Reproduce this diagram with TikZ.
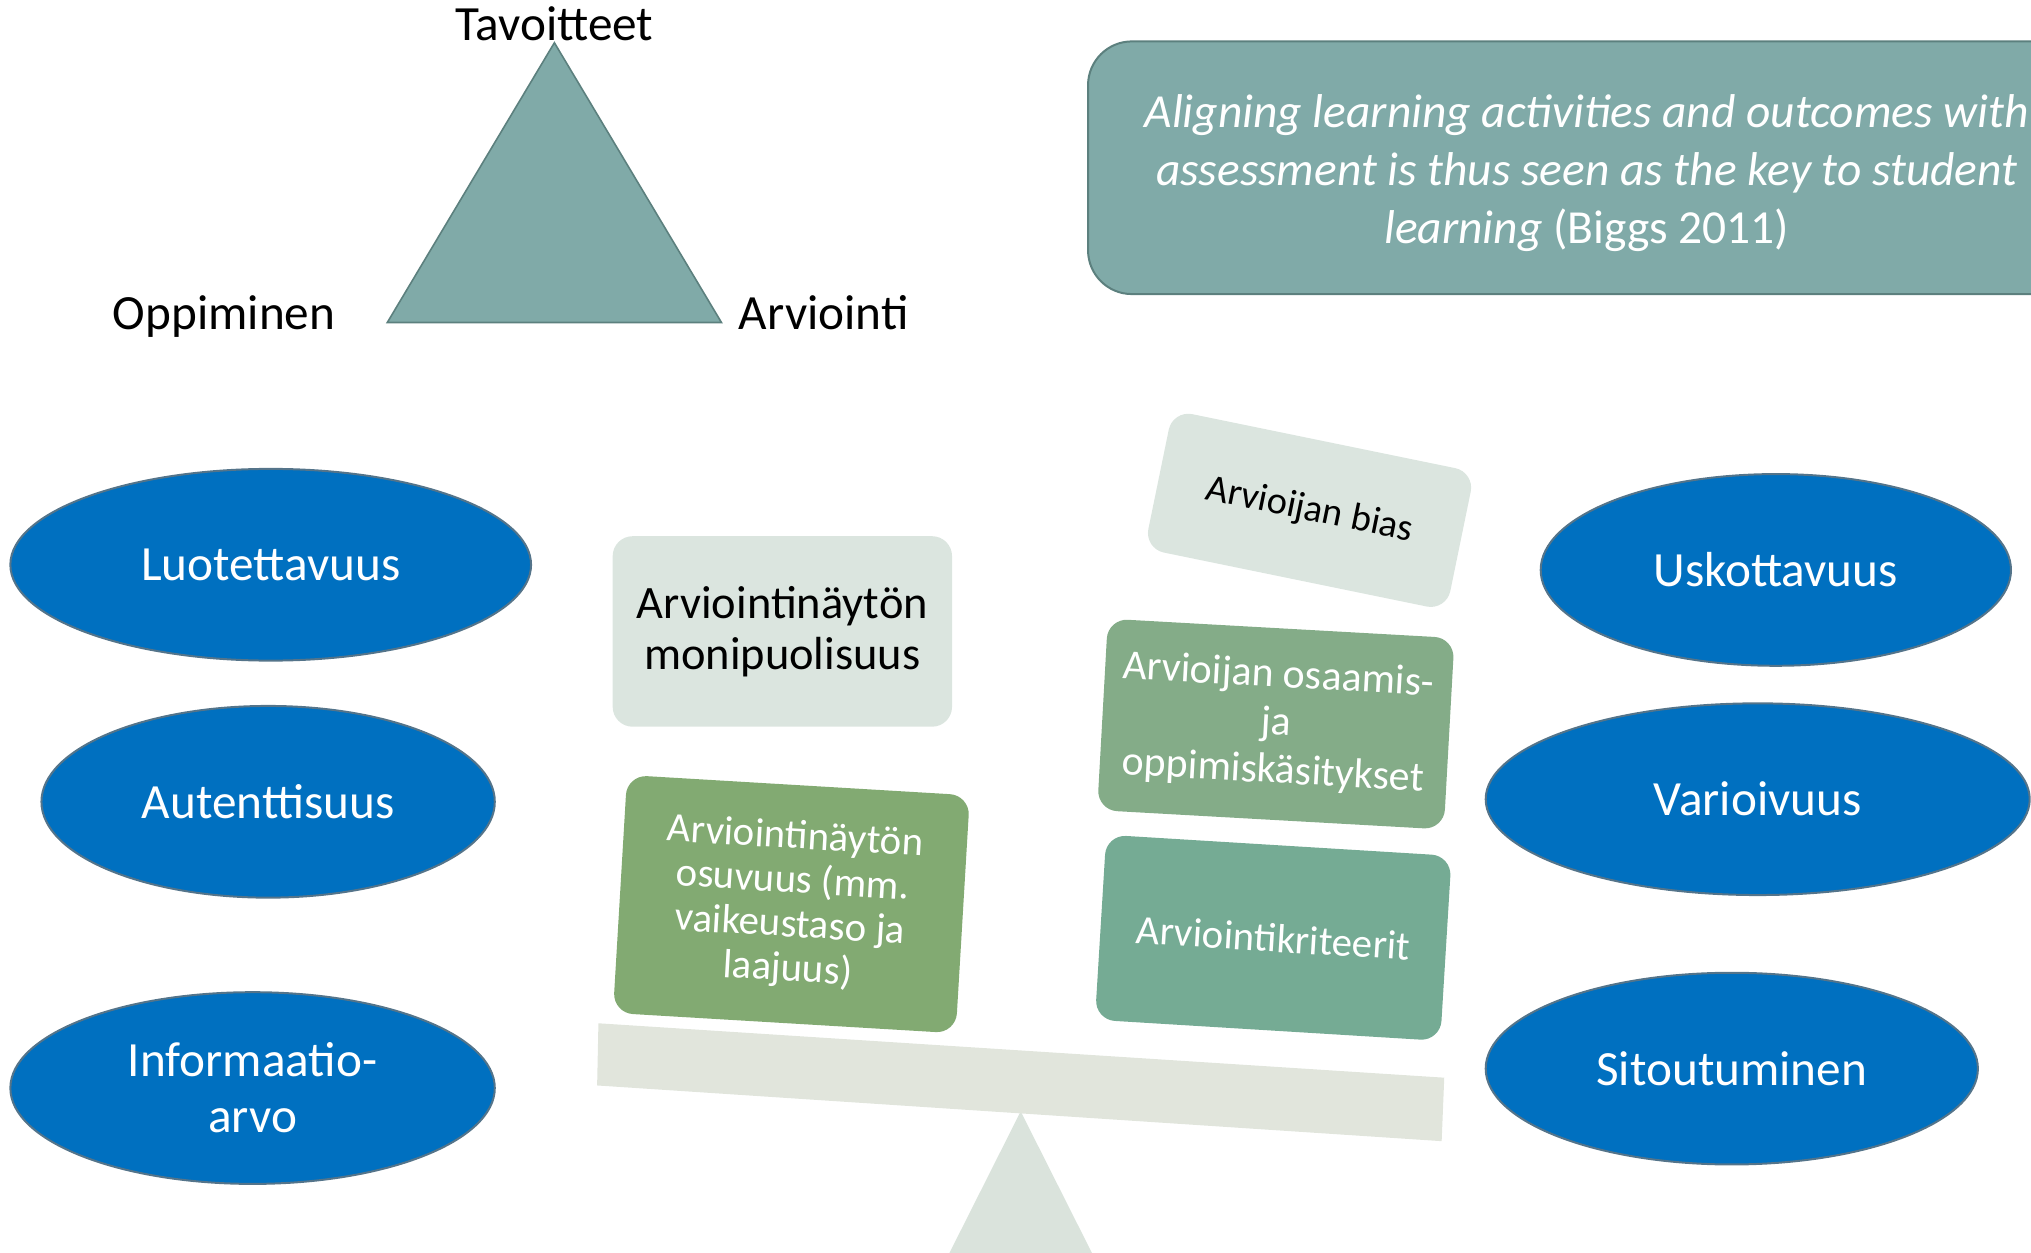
\documentclass[tikz,border=0pt]{standalone}
\usepackage{fontspec}
\setmainfont{Carlito}
\usetikzlibrary{shapes.geometric}
\definecolor{aligngray}{RGB}{128,170,168}
\definecolor{alignedge}{RGB}{92,128,126}
\definecolor{pillarblue}{RGB}{0,112,192}
\definecolor{pillaredge}{RGB}{84,116,138}
\definecolor{paleface}{RGB}{219,229,223}
\definecolor{sageface}{RGB}{132,172,136}
\definecolor{mintface}{RGB}{117,171,148}
\definecolor{leafface}{RGB}{130,170,114}
\definecolor{beamgray}{RGB}{225,229,220}
\definecolor{fulcrumgray}{RGB}{218,227,220}

\begin{document}
\begin{tikzpicture}[
  x=0.65pt, y=-0.65pt,
  pillar/.style={ellipse, draw=pillaredge, line width=1pt, fill=pillarblue, text=white, inner sep=0pt, minimum height=96.2pt, align=center, font=\fontsize{24.7pt}{28pt}\selectfont},
  weightbox/.style={rounded corners=10pt, inner sep=0pt, align=center, text=white},
  cornerlabel/.style={inner sep=0pt, anchor=base, font=\fontsize{24.7pt}{28pt}\selectfont}
]
  \clip (0,0) rectangle (1568,967.3);

  % Constructive alignment triangle
  \filldraw[fill=aligngray, draw=alignedge, line width=0.8pt] (428,33) -- (557,249) -- (299,249) -- cycle;
  \node[cornerlabel] (goals) at (428,31.5) {Tavoitteet};
  \node[cornerlabel] (learning) at (173,254.5) {Oppiminen};
  \node[cornerlabel] (assessment) at (636,254.5) {Arviointi};

  % Quote
  \node[draw=alignedge, line width=1pt, fill=aligngray, rounded corners=22pt, minimum width=500.5pt, minimum height=126.8pt, inner sep=0pt] (quote) at (1225,129.5) {};
  \node[inner sep=0pt, text=white, align=center, font=\fontsize{23.8pt}{29pt}\selectfont] (quotetext) at (1225,133.5) {%
    \textit{Aligning learning activities and outcomes with}\\
    \textit{assessment is thus seen as the key to student}\\
    \textit{learning} (Biggs 2011)};

  % Seesaw
  \fill[fulcrumgray] (788,858) -- (843,967.3) -- (733,967.3) -- cycle;
  \fill[beamgray] (462,790) -- (1115,832) -- (1113,881) -- (461,838) -- cycle;

  % Left column
  \node[pillar, minimum width=261.3pt] (reliability) at (209,436) {Luotettavuus};
  \node[pillar, minimum width=227.5pt] (authenticity) at (207,619) {Autenttisuus};
  \node[pillar, minimum width=243.1pt] (infovalue) at (195,840) {Informaatio-\\arvo};

  % Right column
  \node[pillar, minimum width=236pt] (credibility) at (1371,440) {Uskottavuus};
  \node[pillar, minimum width=273pt] (variation) at (1357,617) {Varioivuus};
  \node[pillar, minimum width=247pt] (commitment) at (1337,825) {Sitoutuminen};

  % Weights on the beam
  \node[weightbox, fill=paleface, text=black, minimum width=170.3pt, minimum height=95.6pt, font=\fontsize{23.3pt}{25.7pt}\selectfont] (diversity) at (604,487.5) {Arviointinäytön\\monipuolisuus};
  \node[weightbox, fill=leafface, minimum width=172.3pt, minimum height=119.6pt, rotate=-3.4, font=\fontsize{20.5pt}{22.2pt}\selectfont] (relevance) at (611,698) {Arviointinäytön\\osuvuus (mm.\\vaikeustaso ja\\laajuus)};
  \node[weightbox, fill=paleface, text=black, minimum width=154.7pt, minimum height=70.9pt, rotate=-11.6, font=\fontsize{19.3pt}{22pt}\selectfont] (bias) at (1011,394) {Arvioijan bias};
  \node[weightbox, fill=sageface, minimum width=174.2pt, minimum height=96.2pt, rotate=-3.2, font=\fontsize{21pt}{24pt}\selectfont] (conceptions) at (985,559) {Arvioijan osaamis-\\ja\\oppimiskäsitykset};
  \node[weightbox, fill=mintface, minimum width=173.6pt, minimum height=93pt, rotate=-3.5, font=\fontsize{20.5pt}{24pt}\selectfont] (criteria) at (983,724) {Arviointikriteerit};
\end{tikzpicture}
\end{document}
